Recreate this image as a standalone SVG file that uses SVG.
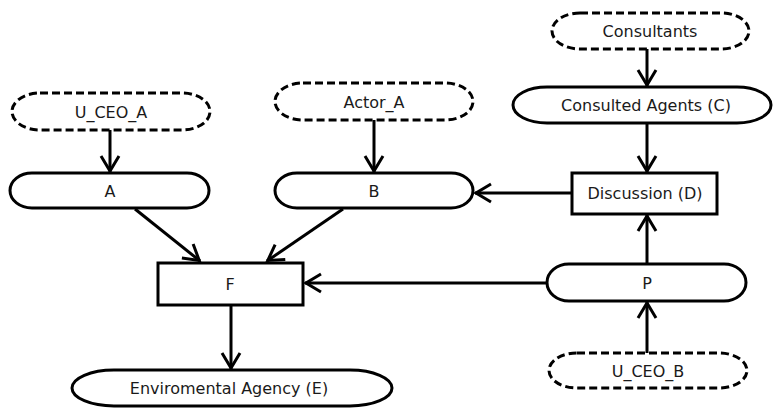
<svg xmlns="http://www.w3.org/2000/svg" width="773" height="408" viewBox="0 0 773 408">
  <style>
    .node { fill: #ffffff; stroke: #000000; stroke-width: 3; }
    .ext { fill: #ffffff; stroke: #000000; stroke-width: 3; stroke-dasharray: 8 4; }
    .lbl { font-family: "DejaVu Sans", "Liberation Sans", sans-serif; font-size: 16px; fill: #1a1a1a; text-anchor: middle; dominant-baseline: central; }
    .edge { fill: none; stroke: #000000; stroke-width: 3; marker-end: url(#arrow); }
  </style>
  <defs>
    <marker id="arrow" markerUnits="userSpaceOnUse" markerWidth="30" markerHeight="30" viewBox="-20 -15 30 30" refX="0" refY="0" orient="auto" overflow="visible">
      <path d="M -16 -9 L -1 0 L -16 9" fill="none" stroke="#000000" stroke-width="3"/>
    </marker>
  </defs>

  <rect width="773" height="408" fill="#ffffff"/>

  <!-- connectors -->
  <g id="edges">
    <line class="edge" x1="110" y1="130" x2="110" y2="172"/>
    <line class="edge" x1="374" y1="120" x2="374" y2="172"/>
    <line class="edge" x1="647" y1="49" x2="647" y2="86"/>
    <line class="edge" x1="647" y1="123" x2="647" y2="172"/>
    <line class="edge" x1="572" y1="193" x2="475" y2="193"/>
    <line class="edge" x1="135" y1="209" x2="200" y2="261"/>
    <line class="edge" x1="343" y1="209" x2="267" y2="261"/>
    <line class="edge" x1="547" y1="283" x2="305" y2="283"/>
    <line class="edge" x1="647" y1="264" x2="647" y2="215"/>
    <line class="edge" x1="647" y1="353" x2="647" y2="302"/>
    <line class="edge" x1="231" y1="305" x2="231" y2="369"/>
  </g>

  <!-- nodes -->
  <g id="u_ceo_a">
    <rect class="ext" x="12" y="93" width="198" height="37" rx="28" ry="18.5"/>
    <text class="lbl" x="111" y="112">U_CEO_A</text>
  </g>
  <g id="a">
    <rect class="node" x="10" y="173" width="199" height="35" rx="22" ry="17.5"/>
    <text class="lbl" x="110" y="191">A</text>
  </g>
  <g id="actor_a">
    <rect class="ext" x="275" y="83" width="198" height="37" rx="28" ry="18.5"/>
    <text class="lbl" x="374" y="102">Actor_A</text>
  </g>
  <g id="b">
    <rect class="node" x="275" y="173" width="198" height="35" rx="22" ry="17.5"/>
    <text class="lbl" x="374" y="191">B</text>
  </g>
  <g id="consultants">
    <rect class="ext" x="552" y="13" width="197" height="36" rx="28" ry="18"/>
    <text class="lbl" x="650" y="31">Consultants</text>
  </g>
  <g id="consulted_agents">
    <rect class="node" x="513" y="87" width="258" height="36" rx="34" ry="18"/>
    <text class="lbl" x="646" y="105">Consulted Agents (C)</text>
  </g>
  <g id="discussion">
    <rect class="node" x="572" y="173" width="145" height="41"/>
    <text class="lbl" x="645" y="193">Discussion (D)</text>
  </g>
  <g id="f">
    <rect class="node" x="158" y="263" width="145" height="42"/>
    <text class="lbl" x="230" y="284">F</text>
  </g>
  <g id="enviromental_agency">
    <rect class="node" x="72" y="370" width="320" height="36" rx="42" ry="18"/>
    <text class="lbl" x="229" y="388">Enviromental Agency (E)</text>
  </g>
  <g id="p">
    <rect class="node" x="547" y="264" width="199" height="37" rx="22" ry="18.5"/>
    <text class="lbl" x="647" y="283">P</text>
  </g>
  <g id="u_ceo_b">
    <rect class="ext" x="549" y="353" width="198" height="35" rx="28" ry="17.5"/>
    <text class="lbl" x="648" y="371">U_CEO_B</text>
  </g>
</svg>
